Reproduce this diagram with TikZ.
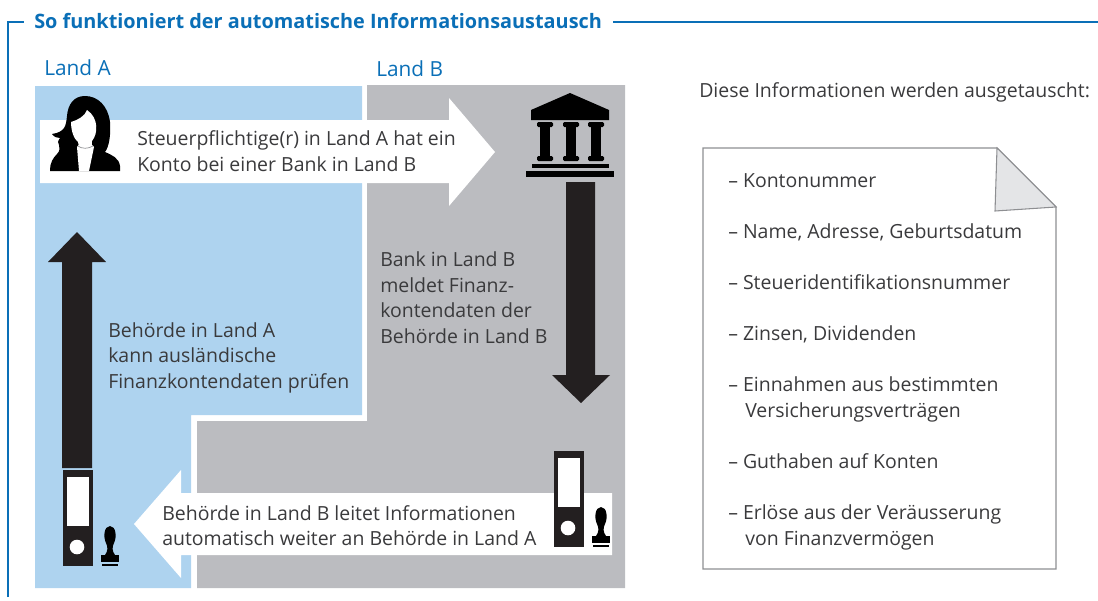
\documentclass[tikz,border=0pt]{standalone}
\usepackage{fontspec}
\setmainfont{Open Sans}
\definecolor{landa}{HTML}{AED3EF}
\definecolor{landb}{HTML}{BBBCC0}
\definecolor{titleblue}{HTML}{0A6FB7}
\definecolor{inkgray}{HTML}{3A3A3C}
\definecolor{pagegray}{HTML}{8E8F92}
\definecolor{foldgray}{HTML}{E4E5E7}
\definecolor{darkink}{HTML}{231F20}
\tikzset{
  txt/.style = {anchor=base west, inner sep=0pt, text=inkgray, font=\fontsize{14.6}{17}\selectfont},
  head/.style = {anchor=base west, inner sep=0pt, text=titleblue, font=\fontsize{15.6}{18}\selectfont}
}
\newcommand{\binderbox}[2]{
  \fill[darkink] (#1,#2) rectangle ++(30,96);
  \fill[white] (#1+3.5,#2+7) rectangle ++(22.5,49);
  \fill[white] (#1+14,#2+77) circle (7.3);
}
\newcommand{\stampicon}[2]{
  \fill[black] (#1+9,#2) .. controls (#1+3,#2) and (#1+2,#2+11) .. (#1+5,#2+17)
    .. controls (#1+7,#2+21) and (#1+7,#2+25) .. (#1+4,#2+29)
    -- (#1+14,#2+29) .. controls (#1+11,#2+25) and (#1+11,#2+21) .. (#1+13,#2+17)
    .. controls (#1+16,#2+11) and (#1+15,#2) .. (#1+9,#2) -- cycle;
  \fill[black] (#1,#2+29) rectangle (#1+18,#2+36);
  \fill[black] (#1+1,#2+38) rectangle (#1+17,#2+40);
}
\begin{document}
\begin{tikzpicture}[x=0.75pt,y=-0.75pt]
  \useasboundingbox (0,0) rectangle (1098,600);
  % frame
  \draw[titleblue, line width=0.8pt] (8,597) -- (8,22) -- (24,22);
  \draw[titleblue, line width=0.8pt] (613,22) -- (1098,22);
  \node[anchor=base west, inner sep=0pt, text=titleblue, font=\fontsize{14.9}{18}\selectfont\bfseries] (title) at (34,28) {So funktioniert der automatische Informationsaustausch};
  \node[head] (landA) at (44,75) {Land A};
  \node[head] (landB) at (376,76) {Land B};
  % areas
  \fill[landa] (35,86) -- (362,86) -- (362,415) -- (191,415) -- (191,588) -- (35,588) -- cycle;
  \fill[landb] (367,85) -- (625,85) -- (625,588) -- (197,588) -- (197,421) -- (367,421) -- cycle;
  % white arrows
  \fill[white] (40,120) -- (449,120) -- (449,98) -- (495,152) -- (449,206) -- (449,183) -- (40,183) -- cycle;
  \fill[white] (612,493) -- (181,493) -- (181,470) -- (134,524) -- (181,578) -- (181,555) -- (612,555) -- cycle;
  % black arrows
  \fill[darkink] (62,468) -- (62,262) -- (48,262) -- (77,232) -- (106,262) -- (92,262) -- (92,468) -- cycle;
  \fill[darkink] (566,182) -- (566,375) -- (552,375) -- (581,403) -- (610,375) -- (595,375) -- (595,182) -- cycle;
  % person
  \fill[black] (85,96) .. controls (74,96) and (68,104) .. (67,116)
    .. controls (66,126) and (65,132) .. (52,134)
    .. controls (54,137) and (57,138) .. (60,138)
    .. controls (58,141) and (57,143) .. (59,145)
    .. controls (60,148) and (60,151) .. (57,154)
    .. controls (53,158) and (50,163) .. (50,170)
    -- (50,171) -- (120,171) -- (120,166)
    .. controls (119,158) and (112,155) .. (105,152)
    .. controls (109,147) and (111,135) .. (110,122)
    .. controls (108,106) and (98,96) .. (85,96) -- cycle;
  \fill[white] (87,110) .. controls (85,116) and (78,120) .. (71,122)
    .. controls (71,131) and (74,139) .. (78,142)
    .. controls (79,144) and (79,146) .. (77,147)
    -- (79,171) -- (89,171) -- (94,147)
    .. controls (92,146) and (91,144) .. (92,141)
    .. controls (98,134) and (99,118) .. (87,110) -- cycle;
  \draw[pagegray, line width=0.5pt] (78,146) .. controls (82,149) and (88,149) .. (93,146);
  % bank
  \fill[black] (570,93) -- (609,110) -- (609,120) -- (531,120) -- (531,110) -- cycle;
  \foreach \colx in {545,571,596}{
    \fill[black, rounded corners=1pt] (\colx-8,122) rectangle (\colx+8,127);
    \fill[black] (\colx-5,125) rectangle (\colx+5,158);
    \fill[black, rounded corners=1pt] (\colx-8,156) rectangle (\colx+8,161);
  }
  \fill[black] (532,164) rectangle (609,168);
  \fill[black] (526,171) rectangle (614,177);
  % binders and stamps
  \binderbox{63}{470}
  \binderbox{554}{451}
  \stampicon{101}{526}
  \stampicon{592}{507}
  % arrow texts
  \node[txt] (taxA) at (137,145) {Steuerpflichtige(r) in Land A hat ein};
  \node[txt] (taxB) at (137,171) {Konto bei einer Bank in Land B};
  \node[txt] (bankA) at (380,266) {Bank in Land B};
  \node[txt] (bankB) at (380,292) {meldet Finanz-};
  \node[txt] (bankC) at (380,317) {kontendaten der};
  \node[txt] (bankD) at (380,343) {Behörde in Land B};
  \node[txt] (authA) at (108,337) {Behörde in Land A};
  \node[txt] (authB) at (108,362) {kann ausländische};
  \node[txt] (authC) at (108,388) {Finanzkontendaten prüfen};
  \node[txt] (sendA) at (162,520) {Behörde in Land B leitet Informationen};
  \node[txt] (sendB) at (162,545) {automatisch weiter an Behörde in Land A};
  % document
  \node[txt] (intro) at (699,97) {Diese Informationen werden ausgetauscht:};
  \draw[pagegray, line width=0.8pt] (703,148) -- (997,148) -- (1056,207) -- (1056,569) -- (703,569) -- cycle;
  \filldraw[pagegray, fill=foldgray, line width=0.8pt] (997,148) -- (995,211) -- (1056,207) -- cycle;
  \node[txt] (itemA) at (728,187) {– Kontonummer};
  \node[txt] (itemB) at (728,238) {– Name, Adresse, Geburtsdatum};
  \node[txt] (itemC) at (728,289) {– Steueridentifikationsnummer};
  \node[txt] (itemD) at (728,340) {– Zinsen, Dividenden};
  \node[txt] (itemE) at (728,391) {– Einnahmen aus bestimmten};
  \node[txt] (itemF) at (745,417) {Versicherungsverträgen};
  \node[txt] (itemG) at (728,468) {– Guthaben auf Konten};
  \node[txt] (itemH) at (728,519) {– Erlöse aus der Veräusserung};
  \node[txt] (itemI) at (745,545) {von Finanzvermögen};
\end{tikzpicture}
\end{document}
